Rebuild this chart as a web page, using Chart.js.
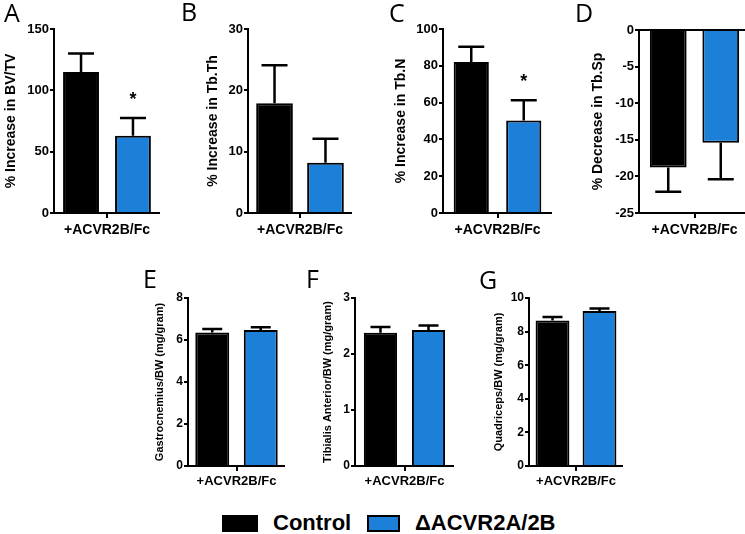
<!DOCTYPE html>
<html><head><meta charset="utf-8">
<script src="https://cdn.jsdelivr.net/npm/chart.js@4.4.1/dist/chart.umd.min.js"></script>
<style>
html,body{margin:0;padding:0;width:745px;height:534px;overflow:hidden;background:#fff;}
canvas{position:absolute;}
.plbl{position:absolute;font-family:"Open Sans",sans-serif;font-weight:400;font-size:25px;line-height:25px;color:#000;}
.lbox{position:absolute;box-sizing:border-box;border:2px solid #000;}
.ltxt{position:absolute;font-family:Arial,"Liberation Sans",sans-serif;font-weight:bold;font-size:22px;line-height:22px;color:#000;white-space:nowrap;}
</style></head><body>
<canvas id="cA"></canvas><canvas id="cB"></canvas><canvas id="cC"></canvas><canvas id="cD"></canvas>
<canvas id="cE"></canvas><canvas id="cF"></canvas><canvas id="cG"></canvas>
<div class="plbl" style="left:4px;top:0px">A</div>
<div class="plbl" style="left:181px;top:-1px">B</div>
<div class="plbl" style="left:389px;top:0px">C</div>
<div class="plbl" style="left:575px;top:0px">D</div>
<div class="plbl" style="left:143px;top:266px">E</div>
<div class="plbl" style="left:306px;top:266px">F</div>
<div class="plbl" style="left:479px;top:267px">G</div>
<div class="lbox" style="left:222px;top:515px;width:36px;height:17px;background:#000"></div>
<div class="ltxt" id="lt0" style="left:273px;top:512px"></div>
<div class="lbox" style="left:367px;top:515px;width:33px;height:17px;background:#1c7fd8"></div>
<div class="ltxt" id="lt1" style="left:415px;top:512px"></div>
<script>
// ---- data ----
const categories = ['+ACVR2B/Fc'];
const seriesNames = ['Control', 'ΔACVR2A/2B'];
const seriesColors = ['#000000', '#1c7fd8'];

const bvtvMean = [115, 63];      const bvtvErr = [15, 14.5];   const bvtvSig = ['', '*'];
const tbthMean = [17.9, 8.2];    const tbthErr = [6.2, 3.9];   const tbthSig = ['', ''];
const tbnMean  = [82, 50.3];     const tbnErr  = [8.3, 11];    const tbnSig  = ['', '*'];
const tbspMean = [-18.8, -15.4]; const tbspErr = [3.3, 5.0];   const tbspSig = ['', ''];
const gastMean = [6.36, 6.48];   const gastErr = [0.16, 0.13]; const gastSig = ['', ''];
const tibMean  = [2.38, 2.43];   const tibErr  = [0.1, 0.08];  const tibSig  = ['', ''];
const quadMean = [8.66, 9.23];   const quadErr = [0.21, 0.14]; const quadSig = ['', ''];

const bvtvTicks = [0, 50, 100, 150];
const tbthTicks = [0, 10, 20, 30];
const tbnTicks  = [0, 20, 40, 60, 80, 100];
const tbspTicks = [-25, -20, -15, -10, -5, 0];
const gastTicks = [0, 2, 4, 6, 8];
const tibTicks  = [0, 1, 2, 3];
const quadTicks = [0, 2, 4, 6, 8, 10];

const titles = ['% Increase in BV/TV', '% Increase in Tb.Th', '% Increase in Tb.N', '% Decrease in Tb.Sp',
  'Gastrocnemius/BW (mg/gram)', 'Tibialis Anterior/BW (mg/gram)', 'Quadriceps/BW (mg/gram)'];

document.getElementById('lt0').textContent = seriesNames[0];
document.getElementById('lt1').textContent = seriesNames[1];

Chart.defaults.font.family = 'Arial, "Liberation Sans", sans-serif';
Chart.defaults.color = '#000';

const errorBarPlugin = {
  id: 'errorBars',
  afterDatasetsDraw(chart, args, opts) {
    const ctx = chart.ctx, ys = chart.scales.y;
    chart.data.datasets.forEach((ds, i) => {
      const meta = chart.getDatasetMeta(i);
      meta.data.forEach((bar, j) => {
        const v = ds.data[j], e = opts.errors[i];
        const py = ys.getPixelForValue(v + (v < 0 ? -e : e));
        ctx.save();
        ctx.strokeStyle = '#000'; ctx.lineWidth = opts.lineWidth;
        ctx.beginPath();
        ctx.moveTo(bar.x, bar.y); ctx.lineTo(bar.x, py);
        ctx.moveTo(bar.x - opts.cap / 2, py); ctx.lineTo(bar.x + opts.cap / 2, py);
        ctx.stroke();
        if (opts.sig[i]) {
          ctx.fillStyle = '#000';
          ctx.font = 'bold 18px Arial, "Liberation Sans", sans-serif';
          ctx.textAlign = 'center'; ctx.textBaseline = 'alphabetic';
          ctx.fillText(opts.sig[i], bar.x, py - 13);
        }
        ctx.restore();
      });
    });
  }
};

function makePanel(id, cfg) {
  const c = document.getElementById(id);
  const w = cfg.areaRight - cfg.left, h = cfg.height;
  c.width = w; c.height = h;
  c.style.left = cfg.left + 'px'; c.style.top = cfg.top + 'px';
  const titleLH = cfg.titleSize * 1.2;
  new Chart(c, {
    type: 'bar',
    data: {
      labels: categories,
      datasets: seriesNames.map((n, i) => ({
        label: n, data: [cfg.mean[i]], backgroundColor: seriesColors[i],
        borderColor: '#000', borderWidth: 2,
        categoryPercentage: cfg.catPct, barPercentage: cfg.barPct
      }))
    },
    options: {
      responsive: false, animation: false, devicePixelRatio: 1,
      layout: { padding: { left: 0, right: 0, top: cfg.axisTop - cfg.top, bottom: 0 } },
      plugins: {
        legend: { display: false }, tooltip: { enabled: false },
        errorBars: { errors: cfg.err, sig: cfg.sig, cap: cfg.cap, lineWidth: 2.5 }
      },
      scales: {
        x: {
          afterFit(s) { s.height = h - (cfg.axisBottom - cfg.top); },
          grid: { display: true, drawOnChartArea: false, drawTicks: true, tickLength: 5, offset: false,
                  color: '#000', tickColor: '#000', lineWidth: 2, tickWidth: 2 },
          border: { display: true, color: '#000', width: 2 },
          ticks: { font: { size: cfg.xSize, weight: 'bold' }, color: '#000', padding: cfg.xPad, maxRotation: 0 }
        },
        y: {
          min: cfg.ticks[0], max: cfg.ticks[cfg.ticks.length - 1],
          afterFit(s) { s.width = cfg.axisX - cfg.left; },
          afterBuildTicks(s) { s.ticks = cfg.ticks.map(v => ({ value: v })); },
          grid: {
            display: true, drawOnChartArea: !!cfg.zeroLine, drawTicks: true, tickLength: 4,
            color: (ctx) => (cfg.zeroLine && ctx.tick && ctx.tick.value === 0) ? '#000' : (cfg.zeroLine ? 'rgba(0,0,0,0)' : '#000'),
            tickColor: '#000', lineWidth: 2, tickWidth: 2
          },
          border: { display: true, color: '#000', width: 2 },
          ticks: { font: { size: cfg.tickSize, weight: 'bold' }, color: '#000', padding: 1 },
          title: { display: true, text: cfg.title, color: '#000',
                   font: { size: cfg.titleSize, weight: 'bold' },
                   padding: { top: cfg.titleX - cfg.left - titleLH / 2, bottom: 0 } }
        }
      }
    },
    plugins: [errorBarPlugin]
  });
}

const top1 = { top: 0, height: 245, axisTop: 29, axisBottom: 213, titleSize: 14, tickSize: 13, xSize: 14, xPad: 4, cap: 26 };
const bot1 = { top: 280, height: 220, axisTop: 298, axisBottom: 466, titleSize: 11, tickSize: 12, xSize: 13, xPad: 3, cap: 20 };

makePanel('cA', Object.assign({}, top1, { left: 0, axisX: 54, areaRight: 160, titleX: 11,
  mean: bvtvMean, err: bvtvErr, sig: bvtvSig, ticks: bvtvTicks, title: titles[0], catPct: 0.98, barPct: 0.69 }));
makePanel('cB', Object.assign({}, top1, { left: 180, axisX: 248, areaRight: 352, titleX: 213,
  mean: tbthMean, err: tbthErr, sig: tbthSig, ticks: tbthTicks, title: titles[1], catPct: 0.98, barPct: 0.72 }));
makePanel('cC', Object.assign({}, top1, { left: 380, axisX: 443, areaRight: 552, titleX: 401,
  mean: tbnMean, err: tbnErr, sig: tbnSig, ticks: tbnTicks, title: titles[2], catPct: 0.963, barPct: 0.67 }));
makePanel('cD', Object.assign({}, top1, { left: 580, axisX: 639, areaRight: 750, titleX: 598, axisTop: 30, zeroLine: true,
  mean: tbspMean, err: tbspErr, sig: tbspSig, ticks: tbspTicks, title: titles[3], catPct: 0.946, barPct: 0.70 }));
makePanel('cE', Object.assign({}, bot1, { left: 145, axisX: 188, areaRight: 285, titleX: 160,
  mean: gastMean, err: gastErr, sig: gastSig, ticks: gastTicks, title: titles[4], catPct: 1.0, barPct: 0.70 }));
makePanel('cF', Object.assign({}, bot1, { left: 315, axisX: 355, areaRight: 454, titleX: 328,
  mean: tibMean, err: tibErr, sig: tibSig, ticks: tibTicks, title: titles[5], catPct: 0.97, barPct: 0.69 }));
makePanel('cG', Object.assign({}, bot1, { left: 485, axisX: 529, areaRight: 623, titleX: 499,
  mean: quadMean, err: quadErr, sig: quadSig, ticks: quadTicks, title: titles[6], catPct: 1.0, barPct: 0.72 }));
</script>
</body></html>
